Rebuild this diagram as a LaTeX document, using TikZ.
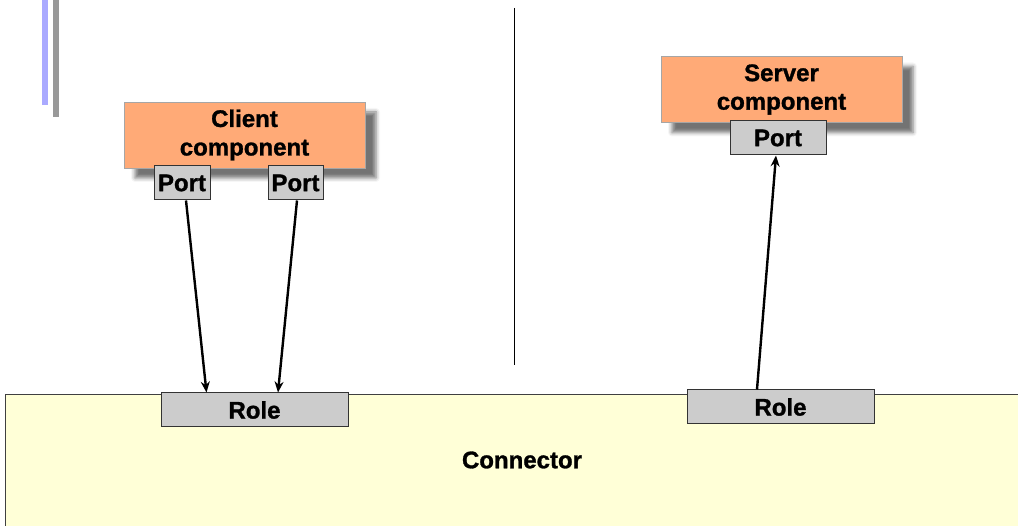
\documentclass[tikz,border=0pt]{standalone}
\usepackage{fontspec}
\setmainfont[BoldFeatures={FakeBold=1.2}]{Liberation Sans}
\usetikzlibrary{arrows.meta,shadows.blur}
\definecolor{compfill}{HTML}{FFAA77}
\definecolor{portfill}{HTML}{CCCCCC}
\definecolor{connfill}{HTML}{FFFFD7}
\definecolor{barblue}{HTML}{AAAAFF}
\definecolor{bargray}{HTML}{999999}
\tikzset{
  labelfont/.style={font=\fontsize{24}{28.5}\selectfont\bfseries},
  comp/.style={draw=gray!70, line width=0.8pt, fill=compfill, minimum width=241pt, minimum height=66pt,
    align=center, inner sep=0pt, labelfont,
    blur shadow={shadow xshift=11pt, shadow yshift=-10pt, shadow blur radius=4pt, shadow opacity=55}},
  portbox/.style={draw=black!80, line width=1pt, fill=portfill, minimum height=34pt, inner sep=0pt, labelfont},
  link/.style={line width=2.4pt, -{Stealth[length=11pt,width=9pt]}}
}
\begin{document}
\begin{tikzpicture}[x=1pt,y=-1pt]
\useasboundingbox (0,0) rectangle (1018,526);
% decorative bars
\fill[barblue] (42,0) rectangle (48,105);
\fill[bargray] (53,0) rectangle (59,117);
% separator
\draw[line width=0.8pt] (514,8) -- (514,365);
% connector area
\fill[connfill] (5,395) rectangle (1018,526);
\draw[black!75, line width=1pt] (1018,395) -- (5,395) -- (5,526);
\node[labelfont] (conn) at (522,460) {Connector};
% components
\node[comp] (client) at (244.5,135) {Client\\component};
\node[comp] (server) at (781.5,89.5) {Server\\component};
% ports
\node[portbox, minimum width=56pt] (cp1) at (182,183) {Port};
\node[portbox, minimum width=55pt] (cp2) at (295.5,183) {Port};
\node[portbox, minimum width=96pt] (sp) at (778,138) {Port};
% roles
\node[portbox, minimum width=187pt] (r1) at (254.5,410) {Role};
\node[portbox, minimum width=187pt] (r2) at (780.5,407) {Role};
% links
\draw[link] ([xshift=4pt]cp1.south) -- ([xshift=-48pt]r1.north);
\draw[link] ([xshift=1.5pt]cp2.south) -- ([xshift=23.5pt]r1.north);
\draw[link] ([xshift=-23.5pt]r2.north) -- ([xshift=-2pt]sp.south);
\end{tikzpicture}
\end{document}
